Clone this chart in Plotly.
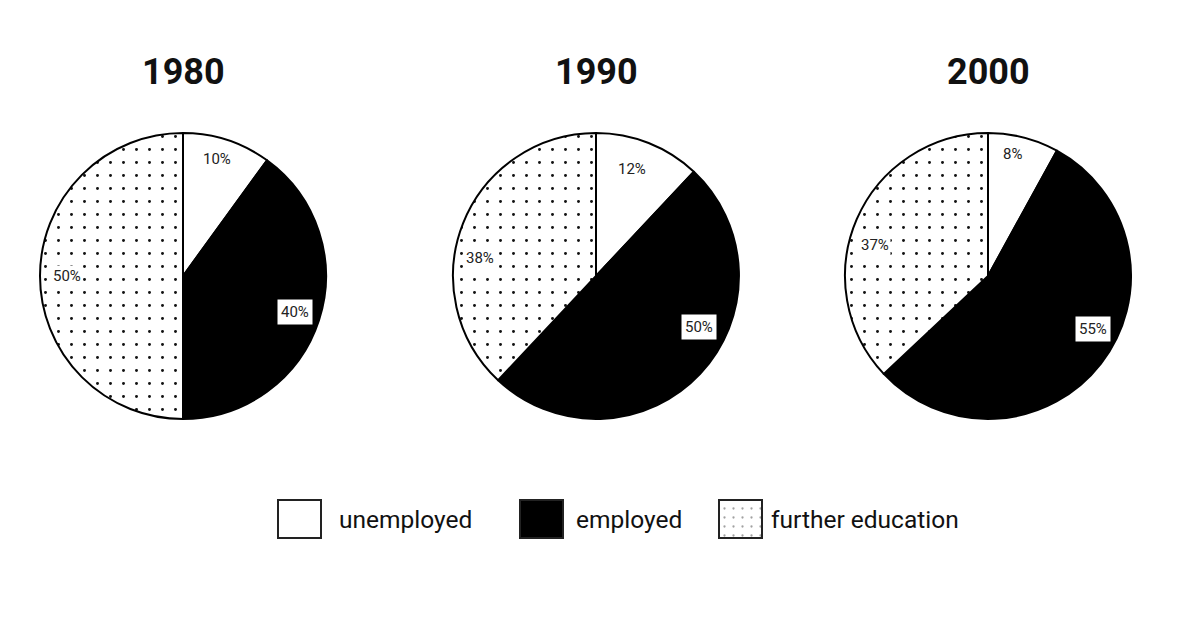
"""Pie charts: share of school leavers by destination, 1980-2000."""

import math

import plotly.graph_objects as go

W, H = 1200, 624

years = ["1980", "1990", "2000"]
categories = ["unemployed", "employed", "further education"]
unemployed = [10, 12, 8]
employed = [40, 50, 55]
further_education = [50, 38, 37]

# layout only: pie centres / radius in pixels
centres_x = [183, 596, 988]
centre_y = 276
radius = 143
# label placement: (angle offset from slice middle in degrees, fraction of radius)
label_place = [
	[(-2, 0.85), (0, 0.82), (0, 0.81)],
	[(-3, 0.79), (-17, 0.8), (-13, 0.82)],
	[(-3, 0.87), (-11, 0.82), (-8, 0.82)],
]

slice_colors = ["white", "black", "white"]
slice_patterns = ["", "", "."]

fig = go.Figure()
annotations = []

for i, year in enumerate(years):
	values = [unemployed[i], employed[i], further_education[i]]
	cx = centres_x[i]
	fig.add_trace(
		go.Pie(
			labels=categories,
			values=values,
			sort=False,
			direction="clockwise",
			rotation=0,
			textinfo="none",
			hoverinfo="label+percent",
			showlegend=False,
			marker=dict(
				colors=slice_colors,
				line=dict(color="black", width=2),
				pattern=dict(shape=slice_patterns, fgcolor="#111", size=13, solidity=0.04),
			),
			domain=dict(
				x=[(cx - radius) / W, (cx + radius) / W],
				y=[1 - (centre_y + radius) / H, 1 - (centre_y - radius) / H],
			),
		)
	)
	annotations.append(
		dict(
			text=f"<b>{year}</b>",
			x=cx / W,
			y=1 - 72 / H,
			xref="paper",
			yref="paper",
			xanchor="center",
			yanchor="middle",
			showarrow=False,
			font=dict(size=36, color="#111", family="Roboto"),
		)
	)
	total = sum(values)
	start = 0.0
	for j, v in enumerate(values):
		mid = (start + v / 2) / total * 360
		start += v
		off, frac = label_place[i][j]
		ang = math.radians(mid + off)
		px = cx + radius * frac * math.sin(ang)
		py = centre_y - radius * frac * math.cos(ang)
		annotations.append(
			dict(
				text=f"{v}%",
				x=px / W,
				y=1 - py / H,
				xref="paper",
				yref="paper",
				xanchor="center",
				yanchor="middle",
				showarrow=False,
				font=dict(size=15, color="#222", family="Roboto"),
				bgcolor="white",
				borderpad=3 if j == 1 else 1,
			)
		)

# legend swatches drawn on a pixel-scaled helper axis
legend_x = [299.5, 541.5, 740.5]
legend_text_x = [337, 574, 769]
fig.add_trace(
	go.Bar(
		x=legend_x,
		y=[38, 38, 38],
		base=[500, 500, 500],
		width=43,
		showlegend=False,
		hoverinfo="skip",
		marker=dict(
			color=slice_colors,
			line=dict(color="#222", width=2),
			pattern=dict(shape=slice_patterns, fgcolor="#555", bgcolor="white", size=9, solidity=0.05),
		),
	)
)
for name, tx in zip(categories, legend_text_x):
	annotations.append(
		dict(
			text=name,
			x=tx,
			y=519,
			xref="x",
			yref="y",
			xanchor="left",
			yanchor="middle",
			showarrow=False,
			font=dict(size=24.5, color="#111", family="Roboto"),
		)
	)

fig.update_layout(
	width=W,
	height=H,
	margin=dict(l=0, r=0, t=0, b=0),
	paper_bgcolor="white",
	plot_bgcolor="rgba(0,0,0,0)",
	annotations=annotations,
	xaxis=dict(range=[0, W], domain=[0, 1], visible=False, fixedrange=True),
	yaxis=dict(range=[H, 0], domain=[0, 1], visible=False, fixedrange=True),
)

# drop the browser's default 8px body margin so the figure fills the window
fig.write_html(
	"out.html",
	config={"displayModeBar": False},
	post_script="document.body.style.margin = '0';",
)
